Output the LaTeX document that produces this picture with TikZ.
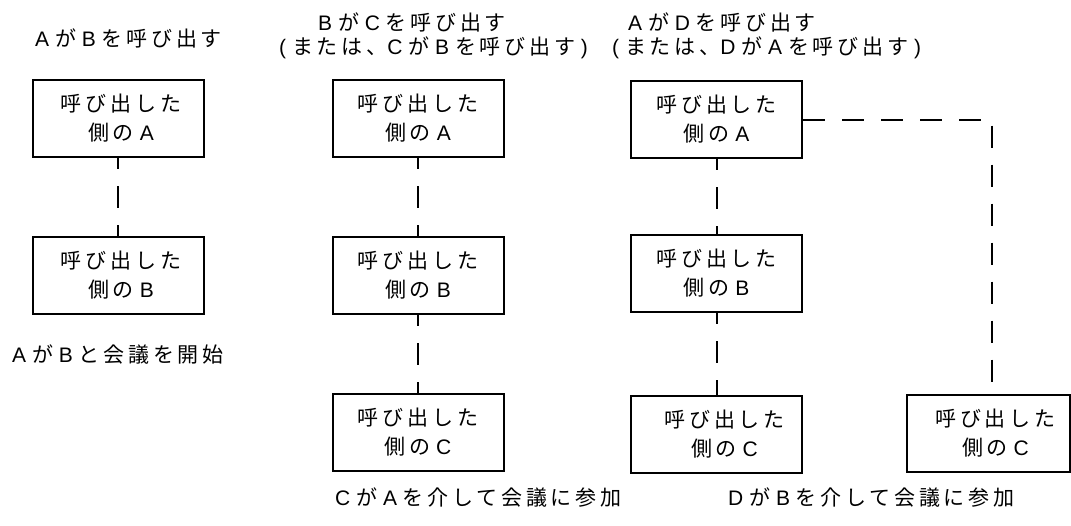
\documentclass[tikz,border=0pt]{standalone}
\usepackage{fontspec}
\setmainfont{Liberation Sans}
\newfontfamily\jp[LetterSpace=18]{Noto Sans CJK JP}
\newcommand\J[1]{{\jp #1}}
\begin{document}
\begin{tikzpicture}[x=1pt,y=-1pt,
  every node/.style={font=\fontsize{21}{29}\selectfont},
  callbox/.style={draw, line width=2pt, minimum width=171pt, minimum height=77pt, inner sep=0pt, align=center},
  link/.style={line width=2pt, dash pattern=on 22pt off 17pt, dash phase=11pt},
  lbl/.style={anchor=base west, inner sep=0pt}]
\useasboundingbox (0,0) rectangle (1071,525);
% titles
\node[lbl] (t1) at (35,46) {A \J{が} B \J{を呼び出す}};
\node[lbl] (t2a) at (318,30) {B \J{が} C \J{を呼び出す}};
\node[lbl] (t2b) at (279,54) {( \J{または、}C \J{が} B \J{を呼び出す} )};
\node[lbl] (t3a) at (628,30) {A \J{が} D \J{を呼び出す}};
\node[lbl] (t3b) at (612,54) {( \J{または、}D \J{が} A \J{を呼び出す} )};
% column 1
\node[callbox] (a1) at (118,118.5) {\hspace*{6pt}\J{呼び出した}\\\hspace*{6pt}\J{側の} A};
\node[callbox] (b1) at (118,275.5) {\hspace*{6pt}\J{呼び出した}\\\hspace*{6pt}\J{側の} B};
\draw[link] (a1.south) -- (b1.north);
\node[lbl] (s1) at (12,362) {A \J{が} B \J{と会議を開始}};
% column 2
\node[callbox] (a2) at (418,118.5) {\J{呼び出した}\\\J{側の} A};
\node[callbox] (b2) at (418,275.5) {\J{呼び出した}\\\J{側の} B};
\node[callbox] (c2) at (418,432.5) {\J{呼び出した}\\\J{側の} C};
\draw[link] (a2.south) -- (b2.north);
\draw[link] (b2.south) -- (c2.north);
\node[lbl] (s2) at (335,505) {C \J{が} A \J{を介して会議に参加}};
% column 3
\node[callbox] (a3) at (716.5,119.5) {\J{呼び出した}\\\J{側の} A};
\node[callbox] (b3) at (716.5,273.5) {\J{呼び出した}\\\J{側の} B};
\node[callbox] (c3) at (716.5,434) {\hspace*{16pt}\J{呼び出した}\\\hspace*{16pt}\J{側の} C};
\node[callbox, minimum width=163pt] (r3) at (988.5,433.5) {\hspace*{14pt}\J{呼び出した}\\\hspace*{14pt}\J{側の} C};
\draw[link] (a3.south) -- (b3.north);
\draw[link] (b3.south) -- (c3.north);
\coordinate (k) at (992,119.5);
\draw[link, dash phase=0pt] (a3.east) -- (k) -- (k |- r3.north);
\node[lbl] (s3) at (728,505) {D \J{が} B \J{を介して会議に参加}};
\end{tikzpicture}
\end{document}
